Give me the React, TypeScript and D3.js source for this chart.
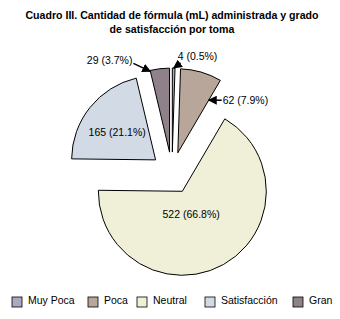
import React from "react";
import * as d3 from "d3";

const categories = ["Muy Poca", "Poca", "Neutral", "Satisfacción", "Gran"];
const values = [4, 62, 522, 165, 29];
const colors = ["#a9a9c0", "#b9a69a", "#f0f0d8", "#d2dae6", "#8e8189"];
const titleLines = [
  "Cuadro III. Cantidad de fórmula (mL) administrada y grado",
  "de satisfacción por toma",
];

const W = 340;
const H = 319;
const CX = 172;
const CY = 173;
const R = 84;
const EXPLODE = 21;
const FONT = "Liberation Sans, Arial, sans-serif";

export default function App() {
  const total = d3.sum(values);
  const pie = d3.pie<number>().sort(null).startAngle(0).endAngle(2 * Math.PI);
  const arcs = pie(values);
  const arc = d3.arc<d3.PieArcDatum<number>>().innerRadius(0).outerRadius(R);
  const fmt = d3.format(".1f");
  const label = (i: number) => `${values[i]} (${fmt((values[i] / total) * 100)}%)`;

  const offset = (a: d3.PieArcDatum<number>) => {
    const m = (a.startAngle + a.endAngle) / 2;
    return [Math.sin(m) * EXPLODE, -Math.cos(m) * EXPLODE];
  };
  const pointAt = (a: d3.PieArcDatum<number>, ang: number, r: number) => {
    const [ox, oy] = offset(a);
    return [CX + ox + Math.sin(ang) * r, CY + oy - Math.cos(ang) * r];
  };

  // outside annotations
  const a0 = arcs[0];
  const tip0 = pointAt(a0, (a0.startAngle + a0.endAngle) / 2, R);
  const a1 = arcs[1];
  const tip1 = pointAt(a1, a1.endAngle, 61);
  const a4 = arcs[4];
  const tip4 = pointAt(a4, a4.startAngle, R - 1);

  const legendX = [12, 88, 137, 205, 293];

  return (
    <svg width={W} height={H} style={{ position: "absolute", left: 0, top: 0, background: "#fff" }}>
      <defs>
        <marker id="ah" viewBox="0 0 10 10" refX="9" refY="5" markerWidth="6" markerHeight="6" orient="auto">
          <path d="M0,0 L10,5 L0,10 z" fill="#000" />
        </marker>
      </defs>
      {titleLines.map((t, i) => (
        <text key={i} x={W / 2 + 2} y={19 + i * 14} textAnchor="middle" fontFamily={FONT} fontWeight="bold" fontSize={10.6} fill="#000">
          {t}
        </text>
      ))}
      {arcs.map((a, i) => {
        const [ox, oy] = offset(a);
        return (
          <path key={i} d={arc(a) || ""} transform={`translate(${CX + ox},${CY + oy})`} fill={colors[i]} stroke="#000" strokeWidth={1} />
        );
      })}
      {[2, 3].map((i) => {
        const a = arcs[i];
        const [ox, oy] = offset(a);
        const [x, y] = arc.centroid(a);
        const k = i === 2 ? 0.62 : 1.05;
        return (
          <text key={i} x={CX + ox + x * k - 4} y={CY + oy + y * k + 4} textAnchor="middle" fontFamily={FONT} fontSize={10.5} fill="#000">
            {label(i)}
          </text>
        );
      })}
      <line x1={tip0[0] + 7} y1={tip0[1] - 5} x2={tip0[0]} y2={tip0[1]} stroke="#000" strokeWidth={1.5} markerEnd="url(#ah)" />
      <text x={tip0[0] + 4} y={tip0[1] - 8} fontFamily={FONT} fontSize={10.5} fill="#000">{label(0)}</text>
      <line x1={tip1[0] + 13} y1={tip1[1]} x2={tip1[0]} y2={tip1[1]} stroke="#000" strokeWidth={1.5} markerEnd="url(#ah)" />
      <text x={tip1[0] + 14} y={tip1[1] + 4} fontFamily={FONT} fontSize={10.5} fill="#000">{label(1)}</text>
      <line x1={tip4[0] - 17} y1={tip4[1] - 8} x2={tip4[0]} y2={tip4[1]} stroke="#000" strokeWidth={1.5} markerEnd="url(#ah)" />
      <text x={tip4[0] - 18} y={tip4[1] - 7} textAnchor="end" fontFamily={FONT} fontSize={10.5} fill="#000">{label(4)}</text>
      {categories.map((c, i) => (
        <g key={c} transform={`translate(${legendX[i]},297)`}>
          <rect x={0} y={0} width={10} height={10} fill={colors[i]} stroke="#000" strokeWidth={0.8} />
          <text x={16} y={7} fontFamily={FONT} fontSize={10.5} fill="#000">{c}</text>
        </g>
      ))}
    </svg>
  );
}
